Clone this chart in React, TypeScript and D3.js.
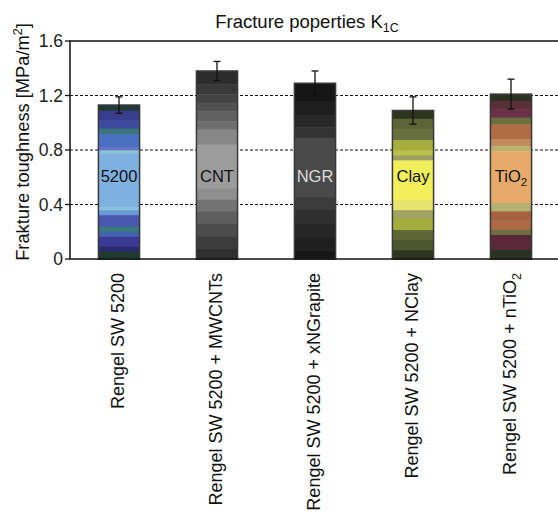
import React from "react";
import * as d3 from "d3";

// values
const samples = [
  "Rengel SW 5200",
  "Rengel SW 5200 + MWCNTs",
  "Rengel SW 5200 + xNGrapite",
  "Rengel SW 5200 + NClay",
  "Rengel SW 5200 + nTiO2",
];
const barLabels = ["5200", "CNT", "NGR", "Clay", "TiO2"];
const toughness = [1.13, 1.38, 1.29, 1.09, 1.21];
const toughnessErr = [0.06, 0.07, 0.09, 0.1, 0.11];
const yTicks = [0, 0.4, 0.8, 1.2, 1.6];
const gridValues = [0.4, 0.8, 1.2];

// stripe texture of each bar: [fraction from top, colour]
const stripes: [number, string][][] = [
  [
    [0, "#1e3b36"], [0.036, "#3a3d8c"], [0.1, "#3d4aa0"], [0.154, "#3a7878"],
    [0.187, "#4a70c0"], [0.273, "#6672c8"], [0.294, "#88c4d4"], [0.316, "#7fb0e2"],
    [0.661, "#86c2d8"], [0.683, "#6c9ad8"], [0.715, "#4a58b0"], [0.791, "#3a7a78"],
    [0.823, "#4262b0"], [0.856, "#3a3a92"], [0.92, "#2a2a6c"], [0.953, "#1e3b30"],
  ],
  [
    [0, "#2c2c2c"], [0.071, "#383838"], [0.124, "#444444"], [0.169, "#525252"],
    [0.214, "#606060"], [0.267, "#6e6e6e"], [0.311, "#878787"], [0.391, "#9c9c9c"],
    [0.623, "#8e8e8e"], [0.685, "#737373"], [0.747, "#5e5e5e"], [0.81, "#4c4c4c"],
    [0.881, "#3c3c3c"], [0.943, "#2e2e2e"],
  ],
  [
    [0, "#161616"], [0.1, "#1e1e1e"], [0.18, "#282828"], [0.25, "#333333"],
    [0.31, "#4a4a4a"], [0.65, "#3c3c3c"], [0.72, "#303030"], [0.8, "#262626"],
    [0.88, "#1e1e1e"], [0.95, "#161616"],
  ],
  [
    [0, "#2e3420"], [0.056, "#5c6438"], [0.123, "#687040"], [0.2, "#a6ae3e"],
    [0.268, "#bcc046"], [0.302, "#9c9e62"], [0.336, "#f2ee5c"], [0.604, "#e6e46c"],
    [0.671, "#a2a262"], [0.727, "#a4ac3e"], [0.805, "#5e6638"], [0.872, "#4e5630"],
    [0.94, "#2e3420"],
  ],
  [
    [0, "#2a3222"], [0.041, "#5a3038"], [0.091, "#6a3048"], [0.142, "#6a7040"],
    [0.183, "#b06c42"], [0.274, "#c08a5c"], [0.315, "#b8b272"], [0.346, "#e8aa6a"],
    [0.66, "#b4b070"], [0.711, "#a4623e"], [0.762, "#ae6a44"], [0.823, "#6a7040"],
    [0.854, "#5a2838"], [0.945, "#2a3222"],
  ],
];
const labelColors = ["#111", "#111", "#dcdcdc", "#111", "#111"];

const W = 558;
const H = 515;
const m = { left: 70, top: 41, right: 560, bottom: 259 };
const font = "'Liberation Sans', Arial, sans-serif";

// "...TiO2" -> TiO with subscript 2
const Sub = ({ text, size }: { text: string; size: number }) => {
  const mm = text.match(/^(.*TiO)2$/);
  if (!mm) return <>{text}</>;
  return (
    <>
      {mm[1]}
      <tspan fontSize={size * 0.7} dy={size * 0.25}>2</tspan>
    </>
  );
};

const App = () => {
  const x = d3
    .scaleBand()
    .domain(samples)
    .range([m.left, m.right])
    .paddingInner(0.58)
    .paddingOuter(0.29);
  const y = d3.scaleLinear().domain([0, 1.6]).range([m.bottom, m.top]);
  const fmt = d3.format("~g");
  const bw = x.bandwidth();

  return (
    <svg
      width={W}
      height={H}
      style={{ position: "absolute", left: 0, top: 0, background: "#fff" }}
      fontFamily={font}
    >
      {/* title */}
      <text x={307} y={28} textAnchor="middle" fontSize={18.5} fill="#111">
        Fracture poperties K
        <tspan fontSize={12.5} dy={4}>1C</tspan>
      </text>

      {/* y label */}
      <text
        transform={`translate(29 ${142}) rotate(-90)`}
        textAnchor="middle"
        fontSize={18.3}
        fill="#111"
      >
        Frakture toughness [MPa/m
        <tspan fontSize={12.5} dy={-7}>2</tspan>
        <tspan dy={7}>]</tspan>
      </text>

      {/* dotted grid */}
      {gridValues.map((g) => (
        <line
          key={g}
          x1={m.left}
          x2={m.right}
          y1={y(g)}
          y2={y(g)}
          stroke="#111"
          strokeWidth={1.2}
          strokeDasharray="3 2"
        />
      ))}

      {/* bars */}
      {samples.map((s, i) => {
        const x0 = x(s)!;
        const top = y(toughness[i]);
        const h = y(0) - top;
        const st = stripes[i];
        return (
          <g key={s}>
            {st.map(([f, c], j) => {
              const f1 = j + 1 < st.length ? st[j + 1][0] : 1;
              return (
                <rect
                  key={j}
                  x={x0}
                  y={top + f * h}
                  width={bw}
                  height={(f1 - f) * h + 0.5}
                  fill={c}
                />
              );
            })}
            <rect
              x={x0}
              y={top}
              width={bw}
              height={h}
              fill="none"
              stroke="#3a3a3a"
              strokeWidth={1.5}
            />
            <text
              x={x0 + bw / 2}
              y={y(0.61)}
              dy="0.35em"
              textAnchor="middle"
              fontSize={16.5}
              fill={labelColors[i]}
            >
              <Sub text={barLabels[i]} size={16.5} />
            </text>
            {/* error bar */}
            <g stroke="#111" strokeWidth={1.3}>
              <line
                x1={x0 + bw / 2}
                x2={x0 + bw / 2}
                y1={y(toughness[i] + toughnessErr[i])}
                y2={y(toughness[i] - toughnessErr[i])}
              />
              <line
                x1={x0 + bw / 2 - 3.5}
                x2={x0 + bw / 2 + 3.5}
                y1={y(toughness[i] + toughnessErr[i])}
                y2={y(toughness[i] + toughnessErr[i])}
              />
              <line
                x1={x0 + bw / 2 - 3.5}
                x2={x0 + bw / 2 + 3.5}
                y1={y(toughness[i] - toughnessErr[i])}
                y2={y(toughness[i] - toughnessErr[i])}
              />
            </g>
          </g>
        );
      })}

      {/* frame */}
      <rect
        x={m.left}
        y={m.top}
        width={m.right - m.left}
        height={m.bottom - m.top}
        fill="none"
        stroke="#111"
        strokeWidth={1.5}
      />

      {/* y axis ticks */}
      {yTicks.map((t) => (
        <g key={t} transform={`translate(0 ${y(t)})`}>
          <line x1={m.left - 5} x2={m.left} stroke="#111" strokeWidth={1.3} />
          <text x={m.left - 7} dy="0.35em" textAnchor="end" fontSize={17.5} fill="#222">
            {fmt(t)}
          </text>
        </g>
      ))}

      {/* x labels */}
      {samples.map((s) => (
        <text
          key={s}
          transform={`translate(${x(s)! + bw / 2 - 1} ${m.bottom + 14}) rotate(-90)`}
          dy="0.35em"
          textAnchor="end"
          fontSize={18}
          fill="#111"
        >
          <Sub text={s} size={18} />
        </text>
      ))}
    </svg>
  );
};

export default App;
